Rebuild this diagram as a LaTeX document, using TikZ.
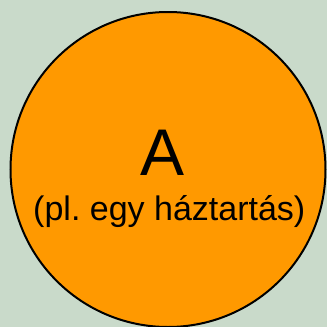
\documentclass[tikz,border=0pt]{standalone}
\usepackage{fontspec}
\setmainfont{Liberation Sans}
\definecolor{bg}{HTML}{C9DACA}
\definecolor{fillor}{HTML}{FF9900}
\begin{document}
\frenchspacing
\begin{tikzpicture}[x=1pt,y=-1pt,
  circ/.style={circle,draw=black,line width=2pt,fill=fillor,minimum size=315pt,inner sep=0pt},
  bigtxt/.style={font=\fontsize{66}{66}\selectfont,inner sep=0pt,anchor=base},
  smalltxt/.style={font=\fontsize{34}{34}\selectfont,inner sep=0pt,anchor=base}]
\fill[bg] (0,0) rectangle (327,327);
\useasboundingbox (0,0) rectangle (327,327);
\begin{scope}
\clip (0,0) rectangle (327,327);
\node[circ] (c) at (168,169.5) {};
\end{scope}
\node[bigtxt] (a) at (162.5,175.5) {A};
\node[smalltxt] (s) at (169.3,220) {(pl. egy háztartás)};
\end{tikzpicture}
\end{document}
